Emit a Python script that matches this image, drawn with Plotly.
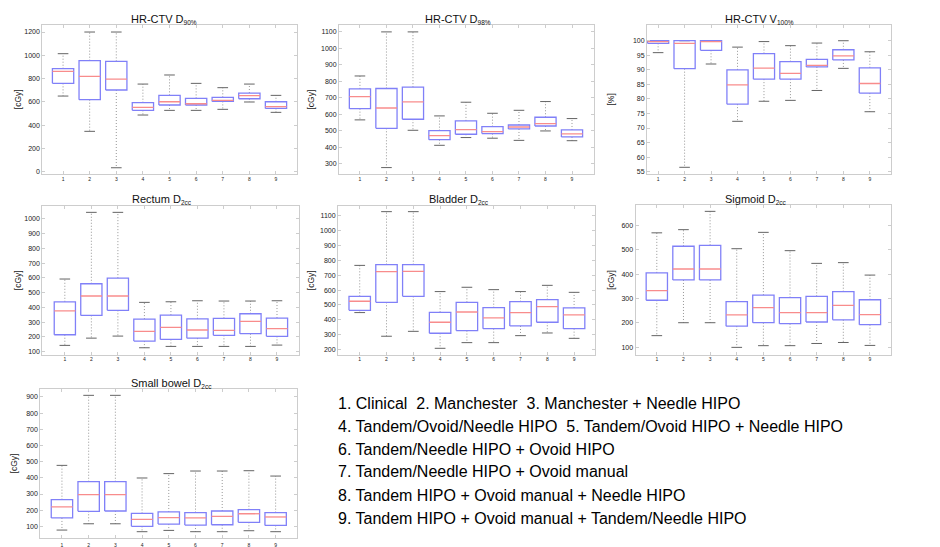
import plotly.graph_objects as go

# ---------------- data ----------------
groups = [1, 2, 3, 4, 5, 6, 7, 8, 9]
group_labels = ["1", "2", "3", "4", "5", "6", "7", "8", "9"]

# HR-CTV D90% [cGy]
d90_low = [650, 347, 34, 487, 527, 527, 536, 599, 510]
d90_q1 = [759, 619, 702, 527, 573, 573, 604, 627, 544]
d90_med = [862, 819, 796, 553, 601, 584, 613, 653, 559]
d90_q3 = [885, 954, 948, 593, 656, 630, 639, 676, 601]
d90_high = [1014, 1200, 1200, 753, 831, 759, 722, 753, 656]

# HR-CTV D98% [cGy]
d98_low = [567, 278, 504, 413, 460, 456, 443, 500, 441]
d98_q1 = [635, 516, 571, 447, 480, 484, 512, 530, 464]
d98_med = [708, 639, 676, 472, 508, 496, 524, 544, 482]
d98_q3 = [755, 757, 765, 502, 561, 526, 536, 583, 506]
d98_high = [833, 1100, 1100, 591, 674, 607, 625, 678, 575]

# HR-CTV V100% [%]
v100_low = [95.9, 56.5, 92.0, 72.3, 79.2, 79.5, 82.9, 90.5, 75.6]
v100_q1 = [99.1, 90.4, 96.7, 78.2, 86.8, 86.8, 91.0, 93.4, 82.0]
v100_med = [99.7, 99.1, 99.7, 84.8, 90.6, 88.8, 91.5, 94.8, 85.3]
v100_q3 = [100.0, 100.0, 100.0, 90.0, 95.6, 92.8, 93.6, 96.9, 90.7]
v100_high = [100.0, 100.0, 100.0, 97.8, 99.7, 98.3, 99.2, 100.0, 96.2]

# Rectum D2cc [cGy]
rect_low = [143, 192, 206, 127, 136, 136, 136, 136, 145]
rect_q1 = [215, 346, 380, 172, 183, 192, 211, 222, 204]
rect_med = [377, 477, 477, 238, 265, 247, 244, 305, 256]
rect_q3 = [438, 560, 598, 321, 348, 323, 326, 357, 328]
rect_high = [592, 1043, 1043, 434, 438, 445, 443, 443, 445]

# Bladder D2cc [cGy]
blad_low = [449, 290, 323, 209, 247, 247, 294, 312, 276]
blad_q1 = [464, 518, 558, 310, 328, 341, 359, 384, 341]
blad_med = [525, 724, 726, 384, 453, 413, 449, 489, 433]
blad_q3 = [558, 771, 771, 451, 518, 482, 522, 536, 480]
blad_high = [766, 1127, 1127, 590, 619, 603, 590, 632, 585]

# Sigmoid D2cc [cGy]
sig_low = [148, 201, 201, 100, 107, 107, 116, 120, 108]
sig_q1 = [293, 376, 376, 187, 201, 197, 204, 213, 193]
sig_med = [332, 421, 421, 233, 263, 242, 242, 272, 234]
sig_q3 = [405, 514, 518, 287, 314, 304, 309, 328, 295]
sig_high = [569, 582, 657, 504, 571, 496, 444, 447, 396]

# Small bowel D2cc [cGy]
sb_low = [77, 116, 116, 67, 75, 67, 67, 73, 67]
sb_q1 = [152, 193, 195, 100, 114, 108, 110, 125, 106]
sb_med = [220, 296, 296, 143, 154, 152, 162, 178, 158]
sb_q3 = [265, 376, 376, 180, 189, 185, 195, 203, 185]
sb_high = [477, 910, 910, 399, 426, 442, 442, 444, 411]

legend_lines = [
    "1. Clinical  2. Manchester  3. Manchester + Needle HIPO",
    "4. Tandem/Ovoid/Needle HIPO  5. Tandem/Ovoid HIPO + Needle HIPO",
    "6. Tandem/Needle HIPO + Ovoid HIPO",
    "7. Tandem/Needle HIPO + Ovoid manual",
    "8. Tandem HIPO + Ovoid manual + Needle HIPO",
    "9. Tandem HIPO + Ovoid manual + Tandem/Needle HIPO",
]

# ---------------- layout helpers ----------------
W, H = 940, 547
FONT = "Liberation Sans, Arial, sans-serif"


def sub_title(main, sub):
    return main + '<sub><span style="font-size:6.5px">' + sub + "</span></sub>"


panels = [
    dict(title=sub_title("HR-CTV D", "90%"), ylab="[cGy]",
         data=(d90_low, d90_q1, d90_med, d90_q3, d90_high),
         frame=(34.3, 289, 16.7, 165.7), xr=[0.22, 9.79], yr=[-17, 1263],
         yt=list(range(0, 1201, 200)), tcx=156, tcy=11.5, ylx=10, xso=0),
    dict(title=sub_title("HR-CTV D", "98%"), ylab="[cGy]",
         data=(d98_low, d98_q1, d98_med, d98_q3, d98_high),
         frame=(331, 586, 17.3, 165.7), xr=[0.21, 9.83], yr=[241, 1140],
         yt=list(range(300, 1101, 100)), tcx=450, tcy=12, ylx=303, xso=0),
    dict(title=sub_title("HR-CTV V", "100%"), ylab="[%]",
         data=(v100_low, v100_q1, v100_med, v100_q3, v100_high),
         frame=(639, 883, 17.3, 165.7), xr=[0.58, 9.8], yr=[54.3, 105.3],
         yt=list(range(55, 101, 5)), tcx=751, tcy=12, ylx=603, xso=0),
    dict(title=sub_title("Rectum D", "2cc"), ylab="[cGy]",
         data=(rect_low, rect_q1, rect_med, rect_q3, rect_high),
         frame=(34.3, 291, 197.7, 346.7), xr=[0.15, 9.83], yr=[80, 1088],
         yt=list(range(100, 1001, 100)), tcx=154, tcy=191.5, ylx=10, xso=-1),
    dict(title=sub_title("Bladder D", "2cc"), ylab="[cGy]",
         data=(blad_low, blad_q1, blad_med, blad_q3, blad_high),
         frame=(330, 587, 197.7, 346.7), xr=[0.19, 9.78], yr=[166, 1167],
         yt=list(range(200, 1101, 100)), tcx=450.5, tcy=191.5, ylx=303, xso=-1),
    dict(title=sub_title("Sigmoid D", "2cc"), ylab="[cGy]",
         data=(sig_low, sig_q1, sig_med, sig_q3, sig_high),
         frame=(627.5, 883, 197, 346.7), xr=[0.2, 9.79], yr=[70, 683],
         yt=list(range(100, 601, 100)), tcx=747.5, tcy=191, ylx=603, xso=-1),
    dict(title=sub_title("Small bowel D", "2cc"), ylab="[cGy]",
         data=(sb_low, sb_q1, sb_med, sb_q3, sb_high),
         frame=(32.3, 289, 380.7, 530), xr=[0.19, 9.8], yr=[28, 951],
         yt=list(range(100, 901, 100)), tcx=163, tcy=375, ylx=6, xso=2),
]

BOX_W = 0.8
CAP_W = 0.4
BOX_COLOR = "rgb(128,128,248)"
MED_COLOR = "rgb(248,140,140)"
WHISK_COLOR = "rgb(150,150,150)"
CAP_COLOR = "rgb(100,100,100)"
FRAME_COLOR = "rgb(205,205,205)"

fig = go.Figure()
layout = dict(
    width=W, height=H, margin=dict(l=0, r=0, t=0, b=0),
    paper_bgcolor="white", plot_bgcolor="white", showlegend=False,
    font=dict(family=FONT, color="#222"),
)
annotations = []

for k, p in enumerate(panels, start=1):
    xa = "x" if k == 1 else f"x{k}"
    ya = "y" if k == 1 else f"y{k}"
    low, q1, med, q3, high = p["data"]

    wx, wy, cx, cy, bx, by, mx, my = [], [], [], [], [], [], [], []
    for i, g in enumerate(groups):
        # whiskers
        wx += [g, g, None, g, g, None]
        wy += [q3[i], high[i], None, q1[i], low[i], None]
        # caps
        cx += [g - CAP_W / 2, g + CAP_W / 2, None, g - CAP_W / 2, g + CAP_W / 2, None]
        cy += [high[i], high[i], None, low[i], low[i], None]
        # box
        l, r = g - BOX_W / 2, g + BOX_W / 2
        bx += [l, r, r, l, l, None]
        by += [q1[i], q1[i], q3[i], q3[i], q1[i], None]
        # median
        mx += [l, r, None]
        my += [med[i], med[i], None]

    fig.add_trace(go.Scatter(x=wx, y=wy, mode="lines", xaxis=xa, yaxis=ya,
                             line=dict(color=WHISK_COLOR, width=1, dash="1px,2px"),
                             hoverinfo="skip"))
    fig.add_trace(go.Scatter(x=cx, y=cy, mode="lines", xaxis=xa, yaxis=ya,
                             line=dict(color=CAP_COLOR, width=1),
                             hoverinfo="skip"))
    fig.add_trace(go.Scatter(x=bx, y=by, mode="lines", xaxis=xa, yaxis=ya,
                             line=dict(color=BOX_COLOR, width=1.3),
                             hoverinfo="skip"))
    fig.add_trace(go.Scatter(x=mx, y=my, mode="lines", xaxis=xa, yaxis=ya,
                             line=dict(color=MED_COLOR, width=1.3),
                             hoverinfo="skip"))

    x0, x1, y0, y1 = p["frame"]
    axis_common = dict(
        showline=True, linecolor=FRAME_COLOR, linewidth=1, mirror="allticks",
        ticks="inside", ticklen=3, tickcolor=FRAME_COLOR, tickwidth=1,
        showgrid=False, zeroline=False, fixedrange=True,
    )
    layout["xaxis" if k == 1 else f"xaxis{k}"] = dict(
        axis_common, domain=[x0 / W, x1 / W], range=p["xr"], anchor=ya,
        tickmode="array", tickvals=groups, ticktext=group_labels,
        tickfont=dict(size=5, color="#222"), ticklabelstandoff=p["xso"],
    )
    layout["yaxis" if k == 1 else f"yaxis{k}"] = dict(
        axis_common, domain=[1 - y1 / H, 1 - y0 / H], range=p["yr"], anchor=xa,
        tickmode="array", tickvals=p["yt"], ticktext=[str(v) for v in p["yt"]],
        tickfont=dict(size=7, color="#222"),
    )
    annotations.append(dict(
        text=p["title"], x=p["tcx"] / W, y=1 - p["tcy"] / H, xref="paper", yref="paper",
        xanchor="center", yanchor="middle", showarrow=False,
        font=dict(size=11, color="#111", family=FONT),
    ))
    annotations.append(dict(
        text=p["ylab"], x=p["ylx"] / W, y=1 - ((y0 + y1) / 2) / H, xref="paper", yref="paper",
        xanchor="center", yanchor="middle", showarrow=False, textangle=-90,
        font=dict(size=8.5, color="#222", family=FONT),
    ))

legend_y = [395, 418, 441, 464, 487, 510]
for line, ly in zip(legend_lines, legend_y):
    annotations.append(dict(
        text=line, x=328 / W, y=1 - ly / H, xref="paper", yref="paper",
        xanchor="left", yanchor="middle", showarrow=False,
        font=dict(size=16, color="#000", family=FONT),
    ))

layout["annotations"] = annotations
fig.update_layout(**layout)
fig.write_html("out.html")
